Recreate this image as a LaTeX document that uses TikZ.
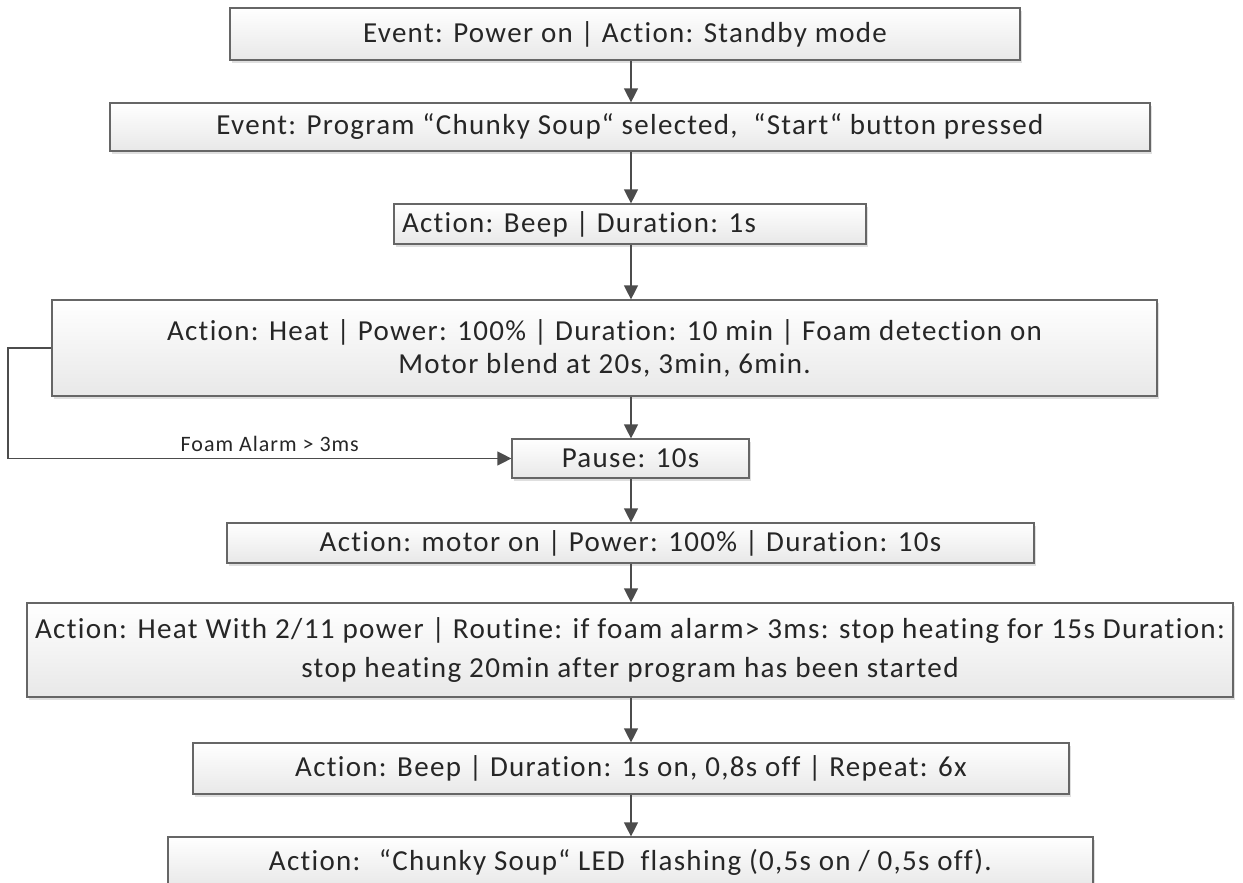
\documentclass[tikz,border=0pt]{standalone}
\usepackage{fontspec}
\setmainfont[LetterSpace=4.5, Ligatures={NoCommon}]{Carlito}
\usepackage{graphicx}
\usetikzlibrary{arrows.meta,shadows}
\tikzset{
    flow-box/.style = {draw=black!60, line width=1.2pt, rectangle, top color=white, bottom color=black!9, text=black!85, font=\fontsize{29}{33}\selectfont, inner sep=0pt, drop shadow={shadow xshift=2pt, shadow yshift=-3pt, fill=black!25, opacity=.5}},
    flow-arrow/.style = {draw=black!70, line width=1.3pt, -{Triangle[length=14pt,width=14pt]}},
    flow-label/.style = {font=\fontsize{22}{24}\selectfont, text=black!85},
}

\begin{document}
\begin{tikzpicture}[x=1pt, y=-1pt]
\clip (0,0) rectangle (1243,883);
\coordinate (spine) at (631,0);
\coordinate (loop) at (8,0);
\node [flow-box, minimum width=790pt, minimum height=52pt] (power) at (625,34) {Event: Power on | Action: Standby mode};
\node [flow-box, minimum width=1040pt, minimum height=48pt] (select) at (630,127) {Event: Program “Chunky Soup“ selected, \ “Start“ button pressed};
\node [flow-box, minimum width=472pt, minimum height=40pt, text width=456pt, align=flush left] (beep) at (630,224) {Action: Beep | Duration: 1s};
\node [flow-box, minimum width=1105pt, minimum height=96pt, align=center] (heat) at (604.5,348) {Action: Heat | Power: 100\% | Duration: 10 min | Foam detection on\\Motor blend at 20s, 3min, 6min.};
\node [flow-box, minimum width=237pt, minimum height=39pt] (pause) at (630.5,458.5) {Pause: 10s};
\node [flow-box, minimum width=807pt, minimum height=40pt] (motor) at (630.5,543) {Action: motor on | Power: 100\% | Duration: 10s};
\node [flow-box, minimum width=1206pt, minimum height=94pt, font=\fontsize{29}{39}\selectfont] (simmer) at (630,650) {\resizebox{1190pt}{\height}{\begin{tabular}{@{}c@{}}Action: Heat With 2/11 power | Routine: if foam alarm> 3ms: stop heating for 15s Duration:\\stop heating 20min after program has been started\end{tabular}}};
\node [flow-box, minimum width=876pt, minimum height=51pt] (alert) at (631,768.5) {Action: Beep | Duration: 1s on, 0,8s off | Repeat: 6x};
\node [flow-box, minimum width=925pt, minimum height=50pt] (led) at (630.5,862) {Action: \ “Chunky Soup“ LED \ flashing (0,5s on / 0,5s off).};

% main sequence
\draw [flow-arrow] (power.south -| spine) -- (select.north -| spine);
\draw [flow-arrow] (select.south -| spine) -- (beep.north -| spine);
\draw [flow-arrow] (beep.south -| spine) -- (heat.north -| spine);
\draw [flow-arrow] (heat.south -| spine) -- (pause.north -| spine);
\draw [flow-arrow] (pause.south -| spine) -- (motor.north -| spine);
\draw [flow-arrow] (motor.south -| spine) -- (simmer.north -| spine);
\draw [flow-arrow] (simmer.south -| spine) -- (alert.north -| spine);
\draw [flow-arrow] (alert.south -| spine) -- (led.north -| spine);

% foam alarm branch
\draw [flow-arrow] (heat.west) -- (heat.west -| loop) |- node[flow-label, pos=0.76, above=3pt] (alarm) {Foam Alarm > 3ms} (pause.west);
\end{tikzpicture}
\end{document}
